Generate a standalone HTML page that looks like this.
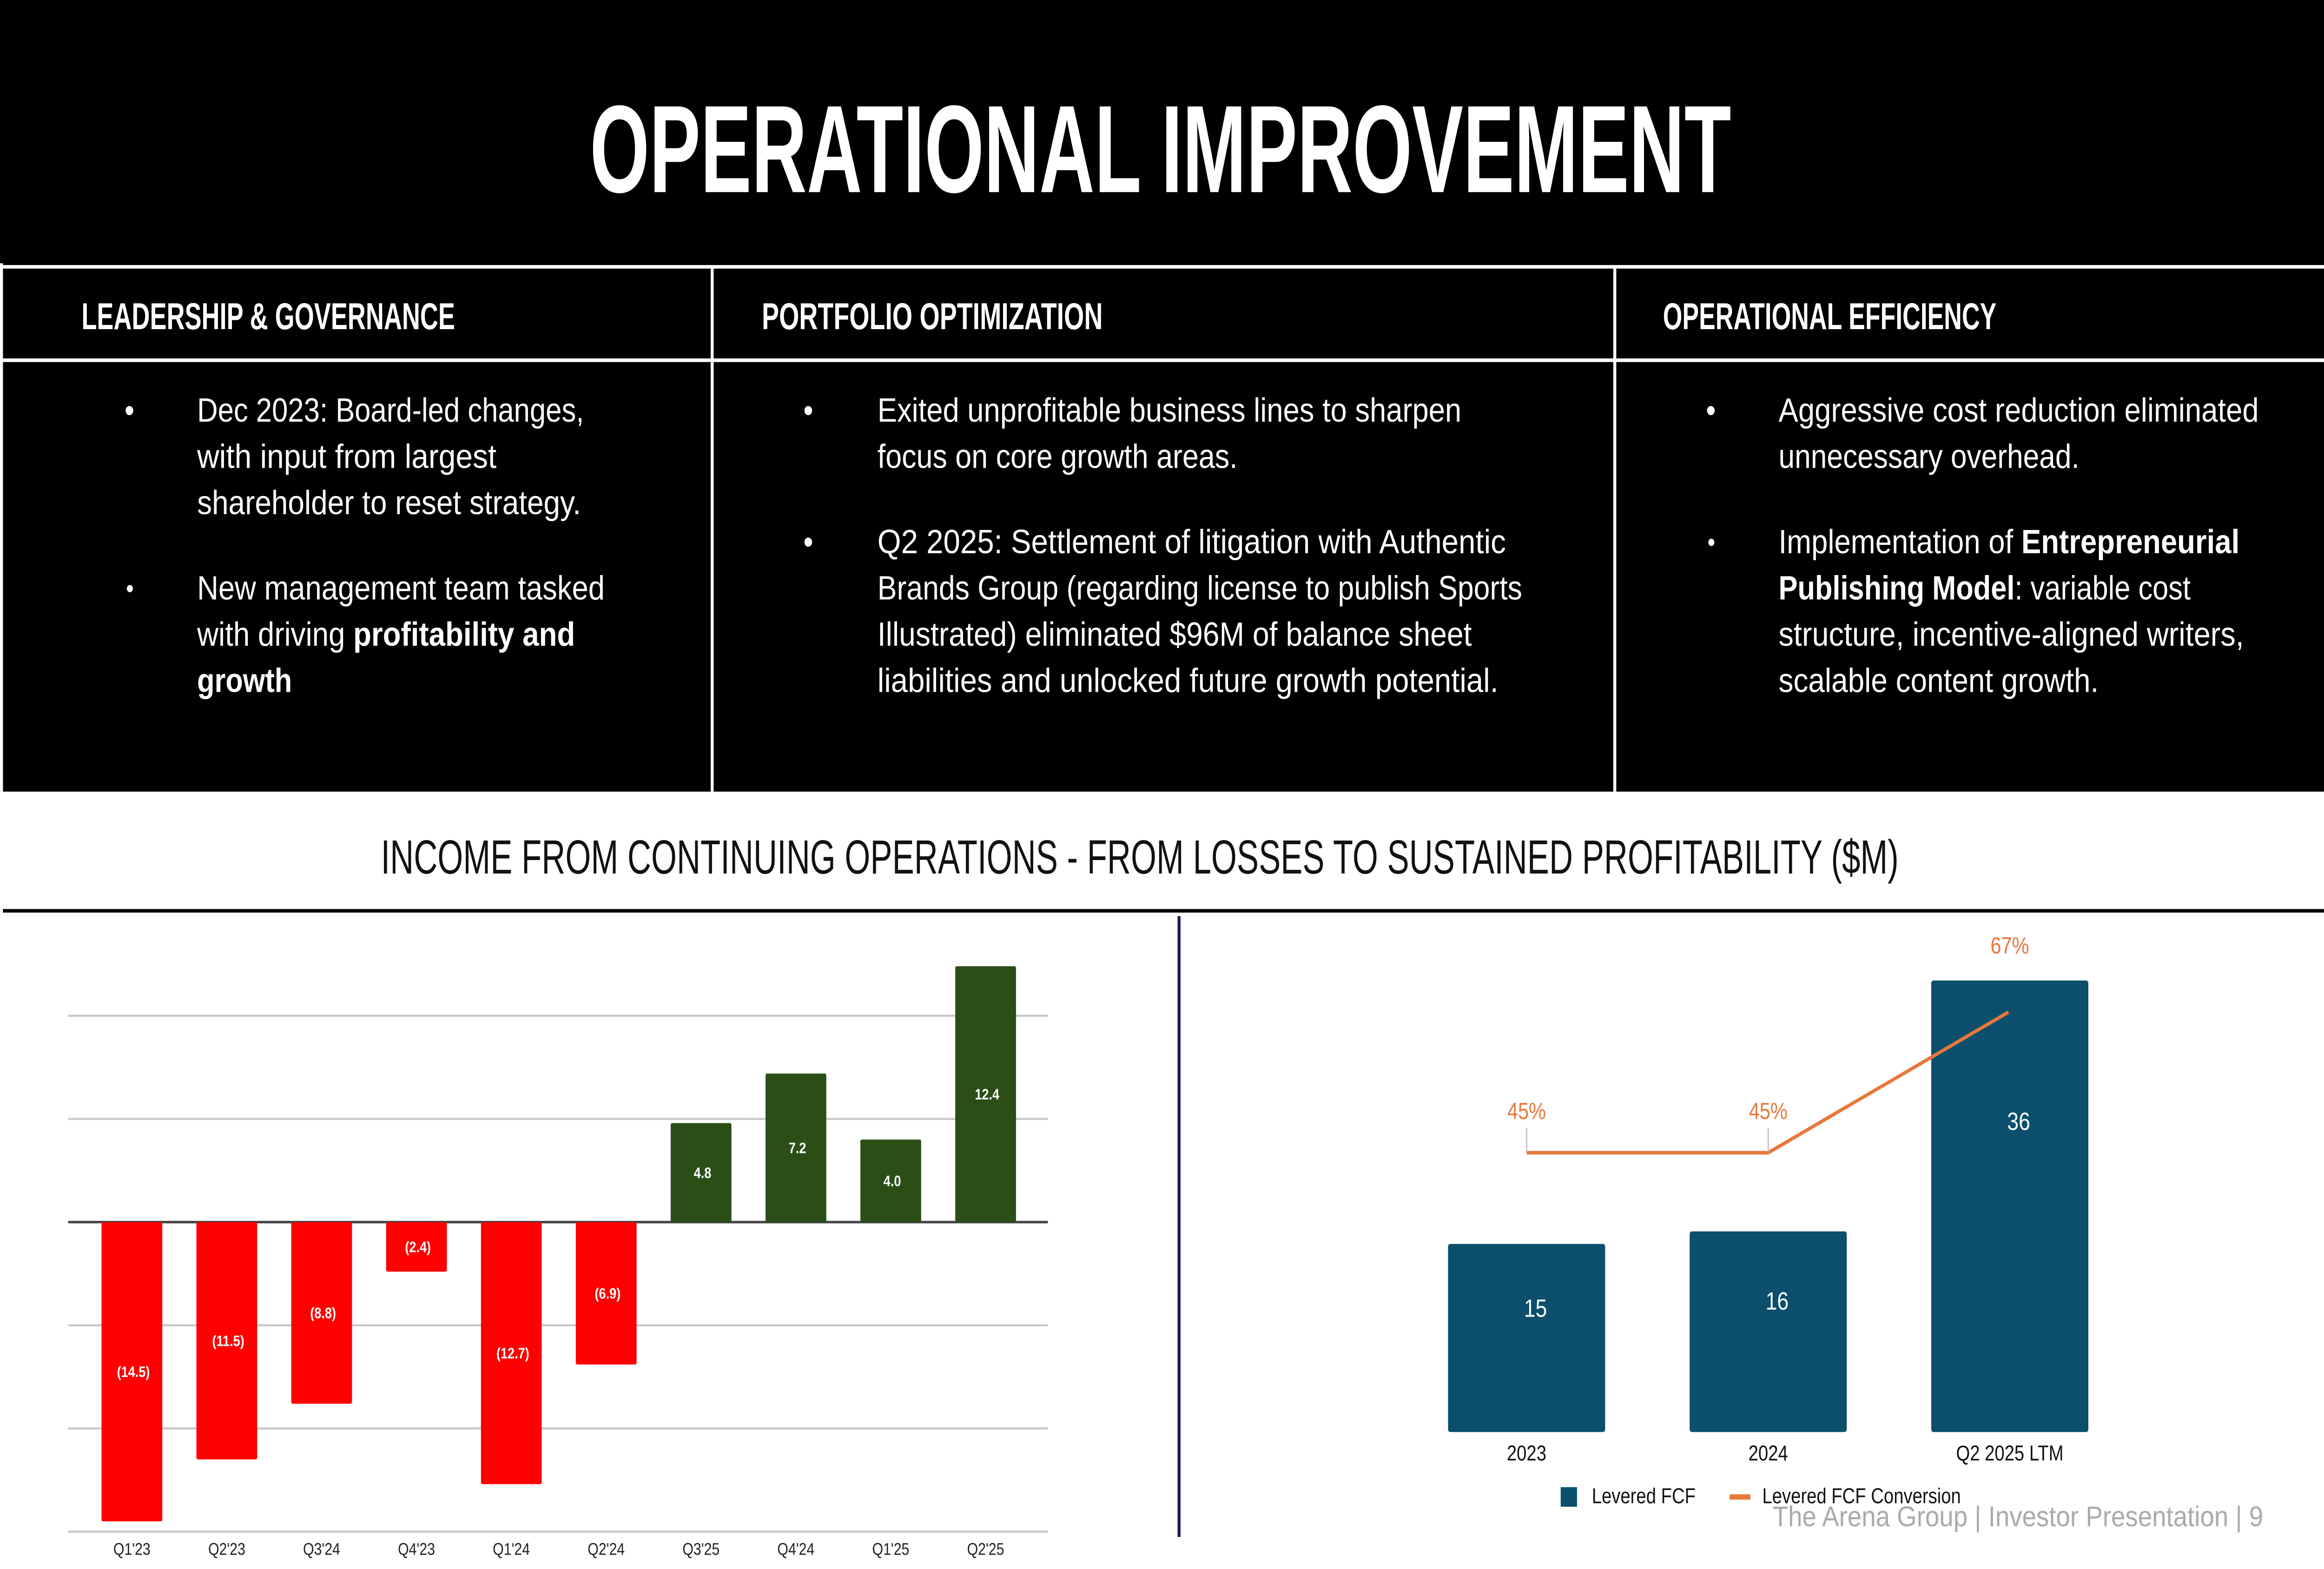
<!DOCTYPE html>
<html><head><meta charset="utf-8"><style>
html,body{margin:0;padding:0;background:#fff;width:100vw;height:100vh;overflow:hidden}
svg#page{display:block;width:100vw;height:100vh}
text{font-family:"Liberation Sans Narrow","Liberation Sans",sans-serif}
.body{font-family:"Liberation Sans",sans-serif;fill:#fff;font-size:19px}
</style></head><body>
<svg id="page" xmlns="http://www.w3.org/2000/svg" viewBox="0 0 1568 882" preserveAspectRatio="none">
<rect x="0" y="0" width="1568" height="445" fill="#000"/>
<rect x="0" y="148" width="2" height="297" fill="#fff"/>
<line x1="0" y1="150" x2="1568" y2="150" stroke="#fff" stroke-width="2"/>
<line x1="0" y1="202.5" x2="1568" y2="202.5" stroke="#fff" stroke-width="2"/>
<line x1="480.5" y1="150" x2="480.5" y2="445" stroke="#fff" stroke-width="2"/>
<line x1="1089.5" y1="150" x2="1089.5" y2="445" stroke="#fff" stroke-width="2"/>
<text x="398" y="108" font-size="70" font-weight="bold" fill="#fff" textLength="770" lengthAdjust="spacingAndGlyphs">OPERATIONAL IMPROVEMENT</text>
<text x="55" y="185" font-size="21" font-weight="bold" fill="#fff" textLength="252" lengthAdjust="spacingAndGlyphs">LEADERSHIP &amp; GOVERNANCE</text>
<text x="514" y="185" font-size="21" font-weight="bold" fill="#fff" textLength="230" lengthAdjust="spacingAndGlyphs">PORTFOLIO OPTIMIZATION</text>
<text x="1122" y="185" font-size="21" font-weight="bold" fill="#fff" textLength="225" lengthAdjust="spacingAndGlyphs">OPERATIONAL EFFICIENCY</text>
<g class="body">
<text x="84" y="237">•</text>
<text x="133" y="237" textLength="261" lengthAdjust="spacingAndGlyphs">Dec 2023: Board-led changes,</text>
<text x="133" y="263" textLength="202" lengthAdjust="spacingAndGlyphs">with input from largest</text>
<text x="133" y="289" textLength="259" lengthAdjust="spacingAndGlyphs">shareholder to reset strategy.</text>
<text x="85" y="336" font-size="15">•</text>
<text x="133" y="337" textLength="275" lengthAdjust="spacingAndGlyphs">New management team tasked</text>
<text x="133" y="363" textLength="255" lengthAdjust="spacingAndGlyphs">with driving <tspan font-weight="bold">profitability and</tspan></text>
<text x="133" y="389" font-weight="bold" textLength="64" lengthAdjust="spacingAndGlyphs">growth</text>
</g>
<g class="body">
<text x="542" y="237">•</text>
<text x="592" y="237" textLength="394" lengthAdjust="spacingAndGlyphs">Exited unprofitable business lines to sharpen</text>
<text x="592" y="263" textLength="243" lengthAdjust="spacingAndGlyphs">focus on core growth areas.</text>
<text x="542" y="311">•</text>
<text x="592" y="311" textLength="424" lengthAdjust="spacingAndGlyphs">Q2 2025: Settlement of litigation with Authentic</text>
<text x="592" y="337" textLength="435" lengthAdjust="spacingAndGlyphs">Brands Group (regarding license to publish Sports</text>
<text x="592" y="363" textLength="401" lengthAdjust="spacingAndGlyphs">Illustrated) eliminated $96M of balance sheet</text>
<text x="592" y="389" textLength="419" lengthAdjust="spacingAndGlyphs">liabilities and unlocked future growth potential.</text>
</g>
<g class="body">
<text x="1151" y="237">•</text>
<text x="1200" y="237" textLength="324" lengthAdjust="spacingAndGlyphs">Aggressive cost reduction eliminated</text>
<text x="1200" y="263" textLength="203" lengthAdjust="spacingAndGlyphs">unnecessary overhead.</text>
<text x="1152" y="310" font-size="15">•</text>
<text x="1200" y="311" textLength="311" lengthAdjust="spacingAndGlyphs">Implementation of <tspan font-weight="bold">Entrepreneurial</tspan></text>
<text x="1200" y="337" textLength="278" lengthAdjust="spacingAndGlyphs"><tspan font-weight="bold">Publishing Model</tspan>: variable cost</text>
<text x="1200" y="363" textLength="314" lengthAdjust="spacingAndGlyphs">structure, incentive-aligned writers,</text>
<text x="1200" y="389" textLength="216" lengthAdjust="spacingAndGlyphs">scalable content growth.</text>
</g>
<text x="257" y="491" font-size="27" fill="#111" textLength="1024" lengthAdjust="spacingAndGlyphs">INCOME FROM CONTINUING OPERATIONS - FROM LOSSES TO SUSTAINED PROFITABILITY ($M)</text>
<line x1="2" y1="512" x2="1568" y2="512" stroke="#000" stroke-width="2"/>
<line x1="795.5" y1="515" x2="795.5" y2="864" stroke="#1b1b4b" stroke-width="2"/>
<g id="left"></g>
<g id="right"></g>
<text x="1196" y="858" font-size="16" fill="#aaa" textLength="331" lengthAdjust="spacingAndGlyphs">The Arena Group  |  Investor Presentation  |  9</text>
</svg>
<script>
const quarters=["Q1'23","Q2'23","Q3'24","Q4'23","Q1'24","Q2'24","Q3'25","Q4'24","Q1'25","Q2'25"];
const income=[-14.5,-11.5,-8.8,-2.4,-12.7,-6.9,4.8,7.2,4.0,12.4];
const incomeLabels=["(14.5)","(11.5)","(8.8)","(2.4)","(12.7)","(6.9)","4.8","7.2","4.0","12.4"];
const incomeTicks=[10,5,0,-5,-10,-15];
const fcfYears=["2023","2024","Q2 2025 LTM"];
const fcfValues=[15,16,36];
const conversion=[45,45,67];
const conversionLabels=["45%","45%","67%"];

const NS="http://www.w3.org/2000/svg";
function mk(tag,attrs,parent,txt){const e=document.createElementNS(NS,tag);for(const k in attrs)e.setAttribute(k,attrs[k]);if(txt!==undefined)e.textContent=txt;parent.appendChild(e);return e;}

// left chart
const L=document.getElementById('left');
const yL=v=>687-(v*58/5);
const xL=i=>89+i*64;
incomeTicks.forEach(t=>{
  const g=mk('line',{x1:46,x2:707,y1:yL(t),y2:yL(t),stroke:t===0?'#444':'#c8c8c8','stroke-width':t===0?1.4:1.2},L);
  
  
});
income.forEach((v,i)=>{
  const top=Math.min(yL(v),yL(0)),h=Math.abs(yL(v)-yL(0));
  const r=mk('rect',{x:xL(i)-20.5,y:top,width:41,height:h,rx:1,fill:v<0?'#ff0000':'#2b4e17'},L);
  
  
  const t=mk('text',{x:xL(i)+1,y:(yL(v)+yL(0))/2+3,'font-size':8.5,'font-weight':'bold',fill:'#fff','text-anchor':'middle'},L,incomeLabels[i]);
  
  
  const a=mk('text',{x:xL(i),y:874,'font-size':9.5,fill:'#222','text-anchor':'middle'},L,quarters[i]);
  
  
});

// right chart
const R=document.getElementById('right');
const base=805;
const yR=v=>base-v*7.05;
const xR=i=>1030+i*163;
const yP=p=>648-(p-45)*3.59;
fcfValues.forEach((v,i)=>{
  const r=mk('rect',{x:xR(i)-53,y:yR(v),width:106,height:base-yR(v),rx:1.5,fill:'#0b4f6c'},R);
  
  
  const t=mk('text',{x:xR(i)+6,y:yR(v)+(i===2?84:i===1?44:41),'font-size':14,fill:'#fff','text-anchor':'middle','font-family':'Liberation Sans, sans-serif'},R,String(v));
  
  
  const a=mk('text',{x:xR(i),y:821,'font-size':12,fill:'#111','text-anchor':'middle','font-family':'Liberation Sans, sans-serif'},R,fcfYears[i]);
  
  
});
const pts=conversion.map((p,i)=>xR(i)+(i===2?-1:0)+','+yP(p)).join(' ');
const pl=mk('polyline',{points:pts,fill:'none',stroke:'#e8773a','stroke-width':2},R);


conversion.forEach((p,i)=>{
  const ly=i===2?yP(p)-33:yP(p)-19;
  if(i<2){const c=mk('line',{x1:xR(i),x2:xR(i),y1:ly+5,y2:yP(p),stroke:'#bbb','stroke-width':0.8},R);
    
    }
  const t=mk('text',{x:xR(i),y:ly,'font-size':13,fill:'#e8773a','text-anchor':'middle','font-family':'Liberation Sans, sans-serif'},R,conversionLabels[i]);
  
  
});
const lg1=mk('rect',{x:1053,y:836,width:11,height:11,fill:'#0b4f6c'},R);


const lt1=mk('text',{x:1074,y:845,'font-size':12,fill:'#111','font-family':'Liberation Sans, sans-serif'},R,'Levered FCF');


const lg2=mk('rect',{x:1167,y:840,width:14,height:3,fill:'#e8773a'},R);


const lt2=mk('text',{x:1189,y:845,'font-size':12,fill:'#111','font-family':'Liberation Sans, sans-serif'},R,'Levered FCF Conversion');


</script>
</body></html>
